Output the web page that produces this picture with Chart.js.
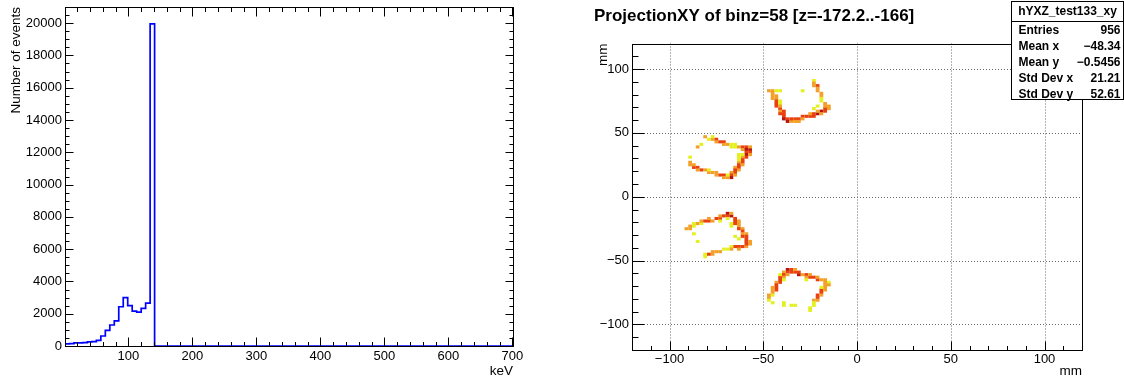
<!DOCTYPE html>
<html>
<head>
<meta charset="utf-8">
<script src="https://cdn.jsdelivr.net/npm/chart.js@4.4.1/dist/chart.umd.min.js"></script>
<style>
  html, body { margin: 0; padding: 0; background: #fff; }
  #wrap { position: relative; width: 1124px; height: 380px; overflow: hidden; }
  .pad { position: absolute; top: 0; width: 562px; height: 380px; }
  #leftPad { left: 0; }
  #rightPad { left: 562px; }
</style>
</head>
<body>
<div id="wrap">
  <div class="pad" id="leftPad"><canvas id="specChart" width="562" height="380"></canvas></div>
  <div class="pad" id="rightPad"><canvas id="xyChart" width="562" height="380"></canvas></div>
</div>
<script>
// ---- left pad: energy spectrum ----
// bin low edges (keV); the last segment 141..701 is all empty bins
const energyEdges = [1, 8, 15, 22, 29, 36, 43, 50, 57, 64, 71, 78, 85, 92, 99, 106, 113, 120, 127, 134, 141, 701];
const eventCounts = [130, 150, 190, 190, 210, 260, 270, 350, 620, 970, 1300, 1560, 2430, 3000, 2500, 2160, 2100, 2330, 2650, 19950, 0];
const energyTicks = [100, 200, 300, 400, 500, 600, 700];
const countTicks = [0, 2000, 4000, 6000, 8000, 10000, 12000, 14000, 16000, 18000, 20000];

// ---- right pad: XY projection, [x, y, content] at bin centres ----
const cellW = 2, cellH = 2.4;
const quadTop = [
  [-47, 83, 4], [-45, 83, 4], [-43, 83, 2], [-41, 83, 2],
  [-45, 81, 4], [-45, 79, 4], [-45, 77, 4], [-43, 79, 4], [-43, 77, 4],
  [-43, 75, 7], [-43, 73, 7], [-41, 73, 2], [-41, 75, 2],
  [-43, 71, 7], [-41, 69, 7], [-41, 71, 4],
  [-41, 67, 4], [-39, 67, 7], [-41, 65, 7],
  [-39, 65, 7], [-39, 63, 7],
  [-39, 61, 10], [-37, 61, 7], [-37, 59, 10], [-35, 59, 4],
  [-35, 61, 7], [-33, 61, 7], [-31, 61, 7], [-33, 59, 4], [-31, 59, 4],
  [-29, 63, 7], [-27, 63, 7], [-25, 63, 7], [-29, 61, 4], [-25, 65, 4], [-23, 63, 7],
  [-23, 65, 7], [-21, 65, 10], [-19, 67, 10], [-17, 67, 7], [-21, 67, 4], [-19, 65, 4],
  [-17, 69, 7], [-15, 69, 4], [-15, 71, 4],
  [-23, 91, 2], [-23, 89, 4], [-23, 87, 4],
  [-21, 87, 7], [-21, 85, 4], [-21, 83, 4],
  [-19, 81, 4], [-19, 79, 4],
  [-19, 77, 2], [-19, 75, 2],
  [-17, 73, 4], [-17, 71, 4],
  [-29, 83, 2], [-23, 69, 2], [-21, 71, 2]
];
const quadUpperLeft = [
  [-81, 47, 4], [-79, 45, 2], [-77, 45, 4], [-77, 47, 2], [-75, 45, 7], [-75, 43, 4], [-73, 43, 7],
  [-71, 43, 7], [-71, 41, 4], [-69, 41, 4], [-67, 41, 2], [-65, 41, 2], [-65, 39, 2], [-63, 39, 4],
  [-61, 39, 7], [-61, 37, 4], [-59, 39, 7], [-59, 37, 10], [-57, 37, 10], [-57, 39, 4],
  [-57, 35, 7], [-59, 35, 7], [-59, 33, 10], [-57, 33, 4], [-61, 31, 4], [-59, 31, 7], [-61, 29, 7],
  [-61, 27, 7], [-63, 27, 4], [-63, 25, 7], [-61, 25, 4], [-63, 23, 7], [-65, 23, 4], [-65, 21, 7],
  [-63, 21, 4], [-65, 19, 7], [-67, 19, 4], [-67, 17, 7], [-67, 15, 10], [-69, 15, 4], [-65, 17, 4],
  [-85, 39, 4], [-83, 41, 2], [-67, 39, 2], [-63, 33, 2], [-63, 29, 2], [-63, 31, 2], [-61, 33, 2],
  [-69, 17, 2], [-71, 17, 7], [-71, 15, 4], [-73, 17, 7], [-75, 19, 4], [-75, 17, 4], [-77, 19, 4],
  [-79, 19, 4], [-79, 21, 2], [-81, 21, 4], [-83, 21, 7], [-85, 23, 7], [-85, 21, 4], [-87, 23, 7],
  [-89, 25, 4], [-89, 27, 4], [-89, 31, 2], [-87, 25, 4]
];
const quadLowerLeft = [
  [-91, -25, 4], [-89, -25, 4], [-89, -23, 4], [-87, -21, 2], [-87, -23, 2], [-85, -21, 4], [-83, -21, 2],
  [-83, -19, 4], [-81, -19, 7], [-79, -19, 7], [-79, -17, 4], [-77, -19, 4], [-75, -17, 7], [-73, -17, 7],
  [-73, -15, 4], [-71, -15, 7], [-69, -13, 10], [-69, -15, 7], [-67, -15, 10], [-67, -13, 4],
  [-73, -19, 2], [-87, -29, 2], [-85, -35, 2], [-67, -21, 2], [-65, -31, 2], [-69, -17, 2], [-63, -33, 2], [-67, -23, 2],
  [-65, -17, 7], [-65, -19, 7], [-63, -19, 4], [-65, -21, 7], [-63, -21, 4], [-63, -23, 4], [-63, -25, 7],
  [-61, -25, 4], [-61, -27, 7], [-61, -29, 4], [-59, -29, 4], [-61, -31, 7], [-59, -31, 7], [-59, -33, 7],
  [-59, -35, 7], [-57, -35, 4], [-57, -37, 4],
  [-59, -39, 4], [-59, -37, 7], [-61, -39, 7], [-63, -39, 7], [-63, -41, 4], [-65, -39, 7], [-67, -39, 2],
  [-67, -41, 4], [-69, -41, 2], [-71, -41, 2], [-73, -43, 4], [-75, -43, 4], [-77, -43, 4], [-77, -45, 4],
  [-79, -45, 7], [-81, -45, 2], [-81, -47, 2]
];
const quadBottom = [
  [-37, -57, 10], [-35, -57, 7], [-37, -59, 7], [-39, -59, 4], [-39, -61, 7], [-37, -61, 4], [-39, -63, 4],
  [-41, -63, 7], [-41, -65, 7], [-41, -67, 7], [-43, -67, 4], [-43, -69, 7], [-43, -71, 7], [-45, -71, 4],
  [-43, -73, 7], [-45, -73, 4], [-45, -75, 4], [-45, -77, 2], [-47, -77, 4], [-47, -79, 4], [-47, -81, 2],
  [-35, -59, 7], [-33, -59, 7], [-33, -57, 4], [-31, -61, 10], [-31, -59, 7], [-29, -61, 4], [-27, -61, 7],
  [-27, -63, 4], [-25, -63, 7], [-25, -61, 4], [-23, -63, 7], [-21, -65, 7], [-21, -63, 4], [-19, -65, 4],
  [-17, -67, 4], [-17, -65, 4], [-15, -67, 2],
  [-17, -69, 4], [-15, -69, 4], [-17, -71, 4], [-19, -73, 7], [-17, -73, 4], [-19, -75, 7], [-21, -77, 7],
  [-19, -77, 4], [-21, -79, 7], [-21, -81, 4], [-23, -81, 4], [-23, -83, 2], [-23, -85, 2], [-25, -87, 2], [-25, -89, 2],
  [-39, -83, 2], [-33, -85, 2], [-35, -85, 2], [-19, -71, 2], [-41, -61, 2], [-27, -65, 2], [-45, -83, 2],
  [-39, -65, 2], [-39, -85, 2]
];
const mmTicks = [-100, -50, 0, 50, 100];
const zLevels = [3, 5, 8];
const zColours = ['#e2f11f', '#f3a02a', '#e8400f', '#b51410'];

const histTitle = 'ProjectionXY of binz=58 [z=-172.2..-166]';
const statsName = 'hYXZ_test133_xy';
const statLabels = ['Entries', 'Mean x', 'Mean y', 'Std Dev x', 'Std Dev y'];
const statValues = ['956', '\u221248.34', '\u22120.5456', '21.21', '52.61'];

const FAMILY = '"Liberation Sans", Arial, Helvetica, sans-serif';
const tickFont = { family: FAMILY, size: 13 };
const titleFont = { family: FAMILY, size: 13.5 };
const plainLabel = v => String(v);
const minusLabel = v => (v < 0 ? '\u2212' + (-v) : String(v));

function cellColour(z) {
  let i = 0;
  while (i < zLevels.length && z >= zLevels[i]) i++;
  return zColours[i];
}

// ROOT style frame with ticks pointing into the pad
function drawFrame(chart, o) {
  const { ctx, chartArea: a, scales: { x, y } } = chart;
  const L = Math.round(a.left) + 0.5, R = Math.round(a.right) + 0.5;
  const T = Math.round(a.top) + 0.5, B = Math.round(a.bottom) + 0.5;
  ctx.save();
  ctx.strokeStyle = '#000';
  ctx.lineWidth = 1;
  ctx.beginPath();
  const xMajor = x.ticks.map(t => t.value);
  for (let v = Math.ceil(x.min / o.xStep) * o.xStep; v <= x.max; v += o.xStep) {
    const px = Math.round(x.getPixelForValue(v)) + 0.5;
    const len = xMajor.includes(v) ? o.xLong : o.xShort;
    ctx.moveTo(px, B); ctx.lineTo(px, B - len);
    if (o.mirror) { ctx.moveTo(px, T); ctx.lineTo(px, T + len); }
  }
  const yMajor = y.ticks.map(t => t.value);
  for (let v = Math.ceil(y.min / o.yStep) * o.yStep; v <= y.max; v += o.yStep) {
    const py = Math.round(y.getPixelForValue(v)) + 0.5;
    const len = yMajor.includes(v) ? o.yLong : o.yShort;
    ctx.moveTo(L, py); ctx.lineTo(L + len, py);
    if (o.mirror) { ctx.moveTo(R, py); ctx.lineTo(R - len, py); }
  }
  ctx.stroke();
  ctx.strokeRect(L, T, R - L, B - T);
  ctx.restore();
}

const spectrumFrame = {
  id: 'spectrumFrame',
  afterDatasetsDraw(chart) {
    drawFrame(chart, { xStep: 20, yStep: 500, xLong: 9, xShort: 4.5, yLong: 8, yShort: 4, mirror: true });
  }
};

const xyDecor = {
  id: 'xyDecor',
  beforeDatasetsDraw(chart) {
    const { ctx, chartArea: a, scales: { x, y } } = chart;
    ctx.save();
    ctx.strokeStyle = '#6a6a6a';
    ctx.lineWidth = 1;
    ctx.setLineDash([1, 2]);
    ctx.beginPath();
    x.ticks.forEach(t => {
      const px = Math.round(x.getPixelForValue(t.value)) + 0.5;
      ctx.moveTo(px, a.top); ctx.lineTo(px, a.bottom);
    });
    y.ticks.forEach(t => {
      const py = Math.round(y.getPixelForValue(t.value)) + 0.5;
      ctx.moveTo(a.left, py); ctx.lineTo(a.right, py);
    });
    ctx.stroke();
    ctx.setLineDash([]);
    chart.data.datasets[0].data.forEach(c => {
      const x0 = x.getPixelForValue(c.x - cellW / 2), x1 = x.getPixelForValue(c.x + cellW / 2);
      const y0 = y.getPixelForValue(c.y + cellH / 2), y1 = y.getPixelForValue(c.y - cellH / 2);
      ctx.fillStyle = cellColour(c.z);
      ctx.fillRect(x0, y0, x1 - x0, y1 - y0);
    });
    ctx.restore();
  },
  afterDatasetsDraw(chart) {
    drawFrame(chart, { xStep: 10, yStep: 10, xLong: 9, xShort: 4.5, yLong: 12, yShort: 6, mirror: false });
  },
  afterDraw(chart) {
    const { ctx } = chart;
    ctx.save();
    ctx.fillStyle = '#000';
    ctx.textBaseline = 'middle';
    ctx.font = 'bold 17px ' + FAMILY;
    ctx.textAlign = 'left';
    ctx.fillText(histTitle, 32, 16);

    // stats box
    const bx = 449.5, by = 1.5, bw = 112, bh = 98;
    ctx.fillStyle = '#fff';
    ctx.fillRect(bx, by, bw, bh);
    ctx.strokeStyle = '#000';
    ctx.lineWidth = 1;
    ctx.strokeRect(bx, by, bw, bh);
    ctx.beginPath();
    ctx.moveTo(bx, 21.5); ctx.lineTo(bx + bw, 21.5);
    ctx.stroke();
    ctx.fillStyle = '#000';
    ctx.font = 'bold 12px ' + FAMILY;
    ctx.textAlign = 'center';
    ctx.fillText(statsName, bx + bw / 2, 12);
    statLabels.forEach((lab, i) => {
      const ty = 31 + i * 15.9;
      ctx.textAlign = 'left';
      ctx.fillText(lab, bx + 7, ty);
      ctx.textAlign = 'right';
      ctx.fillText(statValues[i], bx + bw - 3, ty);
    });
    ctx.restore();
  }
};

const histPoints = energyEdges.map((e, i) => ({ x: e, y: eventCounts[Math.min(i, eventCounts.length - 1)] }));

new Chart(document.getElementById('specChart'), {
  type: 'line',
  data: {
    datasets: [{
      data: histPoints,
      stepped: 'before',
      borderColor: '#0000ff',
      borderWidth: 1.7,
      pointRadius: 0,
      fill: false
    }]
  },
  options: {
    responsive: false,
    animation: false,
    devicePixelRatio: 1,
    layout: { padding: { left: 0, right: 49, top: 7, bottom: 0 } },
    plugins: { legend: { display: false }, tooltip: { enabled: false } },
    scales: {
      x: {
        type: 'linear', min: 1, max: 701,
        afterBuildTicks: s => { s.ticks = energyTicks.map(v => ({ value: v })); },
        afterFit: s => { s.height = 34; s.paddingLeft = 0; s.paddingRight = 0; },
        grid: { display: false, drawTicks: false }, border: { display: false },
        ticks: { font: tickFont, color: '#000', padding: 3, maxRotation: 0, autoSkip: false, callback: plainLabel },
        title: { display: true, text: 'keV', align: 'end', color: '#000', font: titleFont, padding: { top: 0, bottom: 1 } }
      },
      y: {
        type: 'linear', min: 0, max: 21000,
        afterBuildTicks: s => { s.ticks = countTicks.map(v => ({ value: v })); },
        afterFit: s => { s.width = 65; s.paddingTop = 0; s.paddingBottom = 0; },
        grid: { display: false, drawTicks: false }, border: { display: false },
        ticks: { font: tickFont, color: '#000', padding: 3, autoSkip: false, callback: plainLabel },
        title: { display: true, text: 'Number of events', align: 'end', color: '#000', font: titleFont, padding: { top: 8.5, bottom: 0 } }
      }
    }
  },
  plugins: [spectrumFrame]
});

const xyPoints = [...quadTop, ...quadUpperLeft, ...quadLowerLeft, ...quadBottom].map(c => ({ x: c[0], y: c[1], z: c[2] }));

new Chart(document.getElementById('xyChart'), {
  type: 'scatter',
  data: { datasets: [{ data: xyPoints, pointRadius: 0, showLine: false }] },
  options: {
    responsive: false,
    animation: false,
    devicePixelRatio: 1,
    layout: { padding: { left: 0, right: 42, top: 43.5, bottom: 0 } },
    plugins: { legend: { display: false }, tooltip: { enabled: false } },
    scales: {
      x: {
        type: 'linear', min: -120, max: 120,
        afterBuildTicks: s => { s.ticks = mmTicks.map(v => ({ value: v })); },
        afterFit: s => { s.height = 30; s.paddingLeft = 0; s.paddingRight = 0; },
        grid: { display: false, drawTicks: false }, border: { display: false },
        ticks: { font: tickFont, color: '#000', padding: 1.5, maxRotation: 0, autoSkip: false, callback: minusLabel },
        title: { display: true, text: 'mm', align: 'end', color: '#000', font: titleFont, padding: { top: 0, bottom: 1 } }
      },
      y: {
        type: 'linear', min: -120, max: 120,
        afterBuildTicks: s => { s.ticks = mmTicks.map(v => ({ value: v })); },
        afterFit: s => { s.width = 70; s.paddingTop = 0; s.paddingBottom = 0; },
        grid: { display: false, drawTicks: false }, border: { display: false },
        ticks: { font: tickFont, color: '#000', padding: 3, autoSkip: false, callback: minusLabel },
        title: { display: true, text: 'mm', align: 'end', color: '#000', font: titleFont, padding: { top: 33, bottom: 0 } }
      }
    }
  },
  plugins: [xyDecor]
});
</script>
</body>
</html>
